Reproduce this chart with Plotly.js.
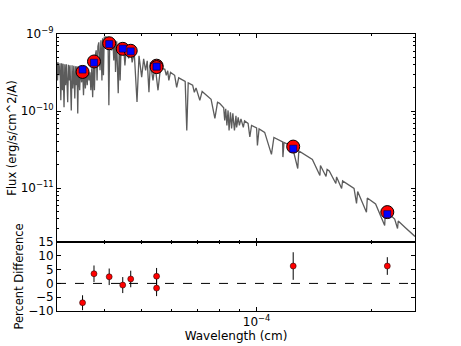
<!DOCTYPE html>
<html>
<head>
<meta charset="utf-8">
<script src="https://cdn.plot.ly/plotly-3.0.1.min.js"></script>
<style>
  html, body { margin: 0; padding: 0; background: white; }
  #chart { width: 461px; height: 346px; }
</style>
</head>
<body>
<div id="chart"></div>
<script>
// model spectrum, wavelength in cm, flux in erg/s/cm^2/A
const specWave = [
  3.000e-5, 3.010e-5, 3.020e-5, 3.040e-5, 3.055e-5, 3.070e-5, 3.085e-5, 3.100e-5, 3.112e-5, 3.130e-5,
  3.145e-5, 3.160e-5, 3.175e-5, 3.200e-5, 3.215e-5, 3.230e-5, 3.245e-5, 3.270e-5, 3.285e-5, 3.300e-5,
  3.320e-5, 3.340e-5, 3.355e-5, 3.370e-5, 3.385e-5, 3.400e-5, 3.415e-5, 3.440e-5, 3.455e-5, 3.480e-5,
  3.500e-5, 3.520e-5, 3.540e-5, 3.560e-5, 3.580e-5, 3.600e-5, 3.620e-5, 3.640e-5, 3.660e-5, 3.680e-5,
  3.700e-5, 3.720e-5, 3.740e-5, 3.760e-5, 3.780e-5, 3.800e-5, 3.820e-5, 3.840e-5, 3.860e-5, 3.889e-5,
  3.910e-5, 3.934e-5, 3.950e-5, 3.970e-5, 3.990e-5, 4.030e-5, 4.060e-5, 4.080e-5, 4.102e-5, 4.125e-5,
  4.170e-5, 4.200e-5, 4.226e-5, 4.256e-5, 4.270e-5, 4.300e-5, 4.340e-5, 4.370e-5, 4.390e-5, 4.420e-5,
  4.480e-5, 4.519e-5, 4.560e-5, 4.620e-5, 4.680e-5, 4.720e-5, 4.780e-5, 4.861e-5, 4.920e-5, 5.000e-5,
  5.060e-5, 5.120e-5, 5.170e-5, 5.224e-5, 5.270e-5, 5.353e-5, 5.420e-5, 5.517e-5, 5.600e-5, 5.750e-5,
  5.800e-5, 5.850e-5, 5.890e-5, 5.950e-5, 6.100e-5, 6.175e-5, 6.250e-5, 6.400e-5, 6.500e-5, 6.563e-5,
  6.620e-5, 6.800e-5, 6.870e-5, 6.940e-5, 7.100e-5, 7.200e-5, 7.400e-5, 7.600e-5, 7.776e-5, 7.900e-5,
  8.000e-5, 8.200e-5, 8.250e-5, 8.300e-5, 8.360e-5, 8.420e-5, 8.470e-5, 8.540e-5, 8.600e-5, 8.665e-5,
  8.750e-5, 8.830e-5, 8.865e-5, 8.950e-5, 9.015e-5, 9.100e-5, 9.230e-5, 9.300e-5, 9.500e-5, 9.600e-5,
  9.700e-5, 1.000e-4, 1.005e-4, 1.015e-4, 1.050e-4, 1.0938e-4, 1.110e-4, 1.170e-4, 1.172e-4, 1.180e-4,
  1.240e-4, 1.2818e-4, 1.290e-4, 1.350e-4, 1.400e-4, 1.465e-4, 1.470e-4, 1.520e-4, 1.530e-4, 1.550e-4,
  1.613e-4, 1.620e-4, 1.670e-4, 1.680e-4, 1.700e-4, 1.800e-4, 1.827e-4, 1.840e-4, 1.940e-4, 1.950e-4,
  2.050e-4, 2.1655e-4, 2.175e-4, 2.300e-4, 2.340e-4, 2.350e-4, 2.450e-4, 2.600e-4,
];
const specFlux = [
  4.29e-10, 2.50e-10, 4.29e-10, 2.91e-10, 4.16e-10, 1.38e-10, 4.16e-10, 1.86e-10, 4.10e-10, 1.12e-10,
  4.04e-10, 2.16e-10, 4.04e-10, 1.30e-10, 3.98e-10, 2.50e-10, 3.92e-10, 1.02e-10, 3.92e-10, 1.97e-10,
  3.86e-10, 1.46e-10, 3.81e-10, 2.16e-10, 3.81e-10, 9.33e-11, 3.75e-10, 1.86e-10, 3.69e-10, 2.36e-10,
  3.64e-10, 1.60e-10, 3.58e-10, 1.97e-10, 3.48e-10, 2.16e-10, 3.38e-10, 2.50e-10, 3.18e-10, 1.86e-10,
  3.58e-10, 1.51e-10, 4.55e-10, 1.86e-10, 5.29e-10, 6.14e-10, 2.50e-10, 6.92e-10, 7.80e-10, 3.38e-10,
  8.28e-10, 2.50e-10, 8.79e-10, 2.91e-10, 9.06e-10, 9.20e-10, 7.13e-10, 9.20e-10, 1.19e-10, 9.06e-10,
  6.14e-10, 8.66e-10, 4.55e-10, 8.28e-10, 3.21e-10, 8.04e-10, 1.70e-10, 7.69e-10, 2.50e-10, 7.46e-10,
  7.13e-10, 3.92e-10, 6.72e-10, 4.84e-10, 6.23e-10, 4.29e-10, 5.79e-10, 1.31e-10, 5.21e-10, 2.76e-10,
  4.76e-10, 3.38e-10, 4.49e-10, 1.76e-10, 4.29e-10, 2.50e-10, 3.92e-10, 1.86e-10, 3.64e-10, 3.48e-10,
  2.91e-10, 3.33e-10, 2.50e-10, 3.18e-10, 2.91e-10, 2.03e-10, 2.70e-10, 2.50e-10, 2.43e-10, 5.61e-11,
  2.32e-10, 2.16e-10, 1.75e-10, 2.00e-10, 1.38e-10, 1.80e-10, 1.60e-10, 1.42e-10, 8.04e-11, 1.30e-10,
  1.26e-10, 1.10e-10, 7.57e-11, 1.07e-10, 6.52e-11, 1.02e-10, 5.61e-11, 9.62e-11, 5.96e-11, 9.33e-11,
  5.61e-11, 8.66e-11, 6.14e-11, 8.28e-11, 6.52e-11, 7.92e-11, 6.14e-11, 7.46e-11, 6.92e-11, 4.61e-11,
  6.52e-11, 6.05e-11, 3.58e-11, 5.87e-11, 5.29e-11, 2.74e-11, 4.55e-11, 3.98e-11, 2.53e-11, 3.92e-11,
  3.48e-11, 1.80e-11, 3.04e-11, 2.66e-11, 2.36e-11, 1.46e-11, 1.97e-11, 1.42e-11, 1.75e-11, 1.67e-11,
  1.15e-11, 1.40e-11, 9.91e-12, 1.24e-11, 1.19e-11, 9.91e-12, 6.33e-12, 9.06e-12, 4.88e-12, 7.46e-12,
  6.23e-12, 3.28e-12, 5.10e-12, 3.98e-12, 3.00e-12, 3.75e-12, 3.09e-12, 2.36e-12,
];

// photometry: observed (red circles) and model (blue squares)
const photWave  = [3.50e-5, 3.75e-5, 4.11e-5, 4.46e-5, 4.68e-5, 5.47e-5, 5.47e-5, 1.247e-4, 2.20e-4];
const photFlux  = [3.22e-10, 4.40e-10, 7.58e-10, 6.42e-10, 6.06e-10, 3.88e-10, 3.72e-10, 3.46e-11, 4.89e-12];
const modelFlux = [3.45e-10, 4.25e-10, 7.40e-10, 6.46e-10, 5.96e-10, 3.78e-10, 3.78e-10, 3.25e-11, 4.60e-12];

// residuals in percent
const pctDiff = [-7.0, 3.5, 2.4, -0.6, 1.6, 2.6, -1.7, 6.3, 6.3];
const pctErr  = [2.7, 3.0, 3.0, 2.9, 3.0, 3.0, 2.9, 5.0, 3.2];

// tick labels
const xTickVals = [1e-4];
const xTickText = ["10<sup>−4</sup>"];
const yTickVals = [1e-11, 1e-10, 1e-9];
const yTickText = ["10<sup>−11</sup>", "10<sup>−10</sup>", "10<sup>−9</sup>"];
const pctTicks = [-10, -5, 0, 5, 10, 15];

const xMinor = [3e-5, 4e-5, 5e-5, 6e-5, 7e-5, 8e-5, 9e-5, 2e-4];
const yMinor = [];
for (const d of [1e-12, 1e-11, 1e-10]) {
  for (let k = 2; k <= 9; k++) yMinor.push(k * d);
}

const traceSpec = {
  x: specWave, y: specFlux,
  type: "scatter", mode: "lines",
  line: { color: "rgb(92,92,92)", width: 1.3 },
  xaxis: "x", yaxis: "y", hoverinfo: "skip",
};

const traceObs = {
  x: photWave, y: photFlux,
  type: "scatter", mode: "markers",
  marker: { color: "#ff0000", size: 13, line: { color: "black", width: 1 } },
  xaxis: "x", yaxis: "y",
};

const traceModel = {
  x: photWave, y: modelFlux,
  type: "scatter", mode: "markers",
  marker: { color: "#0000ff", symbol: "square", size: 7, line: { color: "#000033", width: 0.5 } },
  xaxis: "x", yaxis: "y",
};

const traceDiff = {
  x: photWave, y: pctDiff,
  type: "scatter", mode: "markers",
  error_y: { type: "data", array: pctErr, visible: true, color: "black", thickness: 1, width: 0 },
  marker: { color: "#ff0000", size: 6, line: { color: "black", width: 0.5 } },
  xaxis: "x2", yaxis: "y2",
};

const axisBase = {
  showline: true, linecolor: "black", linewidth: 1,
  mirror: "allticks", ticks: "inside", ticklen: 4, tickcolor: "black",
  showgrid: false, zeroline: false,
};

const xBase = Object.assign({}, axisBase, {
  type: "log",
  range: [Math.log10(3e-5), Math.log10(2.6e-4)],
  tickmode: "array", tickvals: xTickVals, ticktext: xTickText,
  minor: { tickmode: "array", tickvals: xMinor, ticks: "inside", ticklen: 2, tickcolor: "black", showgrid: false },
});

const layout = {
  width: 461, height: 346,
  margin: { l: 57, r: 46, t: 34, b: 35 },
  showlegend: false,
  paper_bgcolor: "white", plot_bgcolor: "white",
  font: { family: "DejaVu Sans, sans-serif", size: 12, color: "black" },
  xaxis: Object.assign({}, xBase, { anchor: "y", showticklabels: false }),
  xaxis2: Object.assign({}, xBase, {
    anchor: "y2", matches: "x",
    title: { text: "Wavelength (cm)", font: { size: 12 }, standoff: 2 },
  }),
  yaxis: Object.assign({}, axisBase, {
    type: "log", domain: [0.249, 1],
    range: [Math.log10(2e-12), -9],
    tickmode: "array", tickvals: yTickVals, ticktext: yTickText,
    minor: { tickmode: "array", tickvals: yMinor, ticks: "inside", ticklen: 2, tickcolor: "black", showgrid: false },
    title: { text: "Flux (erg/s/cm^2/A)", font: { size: 11.5 } },
  }),
  yaxis2: Object.assign({}, axisBase, {
    domain: [0, 0.249], range: [-10, 15],
    tickmode: "array", tickvals: pctTicks,
    title: { text: "Percent Difference", font: { size: 11.5 } },
  }),
  shapes: [{
    type: "line", xref: "x2 domain", x0: 0, x1: 1, yref: "y2", y0: 0, y1: 0,
    line: { color: "black", width: 1, dash: "dash" },
  }],
};

Plotly.newPlot("chart", [traceSpec, traceObs, traceModel, traceDiff], layout, { staticPlot: true });
</script>
</body>
</html>
